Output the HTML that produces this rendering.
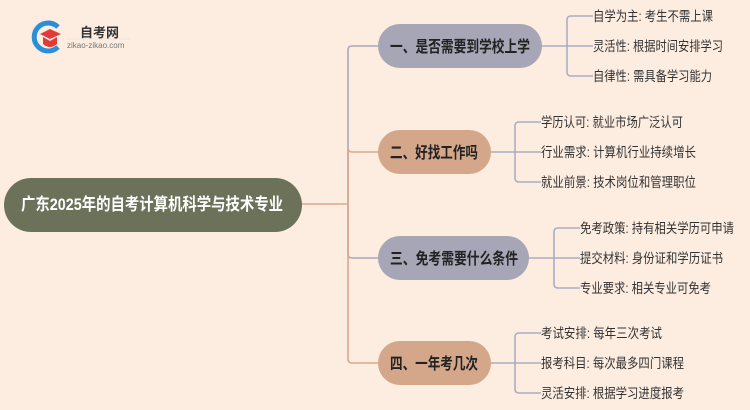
<!DOCTYPE html>
<html><head><meta charset="utf-8"><style>
body{margin:0;width:750px;height:410px;background:#fdede0;overflow:hidden;font-family:"Liberation Sans","Noto Sans CJK SC",sans-serif;}
svg{position:absolute;left:0;top:0}
.t{font-size:13.5px;fill:#333}
.n{font-size:16px;font-weight:bold;fill:#222}
</style></head><body>
<svg width="750" height="410" viewBox="0 0 750 410">
<!-- logo -->
<path d="M58 27 A14 14 0 1 0 58 47" fill="none" stroke="#2a8fd8" stroke-width="5"/>
<polygon points="40,34 50,29 61,34 50,39" fill="#e23a3a"/>
<path d="M43 37 L43 44 Q50 50 57 44 L57 37 L50 41 Z" fill="#e23a3a"/>
<text x="80" y="37" font-size="13" font-weight="bold" fill="#333">自考网</text>
<text x="67" y="48" font-size="8" fill="#777">zikao-zikao.com</text>
<line x1="66" y1="39" x2="130" y2="39" stroke="#ddd" stroke-width="0.5"/>
<g fill="none" stroke-width="1.6">
<path d="M302 204 H348" stroke="#d9a98c"/>
<path d="M348 204 V50 Q348 46 352 46 H378" stroke="#a9a9bb"/>
<path d="M348 204 V148 Q348 152 352 152 H378" stroke="#d9a98c"/>
<path d="M348 204 V254 Q348 258 352 258 H378" stroke="#a9a9bb"/>
<path d="M348 204 V359 Q348 363 352 363 H378" stroke="#d9a98c"/>
<g stroke="#a9adc6">
<path d="M542 46 H567 M593 16 H571 Q567 16 567 20 V72 Q567 76 571 76 H593 M567 46 H593"/>
<path d="M491 152 H515 M541 122 H519 Q515 122 515 126 V178 Q515 182 519 182 H541 M515 152 H541"/>
<path d="M529 258 H554 M580 228 H558 Q554 228 554 232 V284 Q554 288 558 288 H580 M554 258 H580"/>
<path d="M491 363 H515 M541 333 H519 Q515 333 515 337 V389 Q515 393 519 393 H541 M515 363 H541"/>
</g></g>
<rect x="4" y="178" width="298" height="54" rx="27" fill="#6b7259"/>
<text x="21" y="210" font-size="17" font-weight="bold" fill="#fff" textLength="262" lengthAdjust="spacingAndGlyphs">广东2025年的自考计算机科学与技术专业</text>
<rect x="378" y="24" width="164" height="44" rx="22" fill="#a6a6b6"/>
<text x="390" y="52" class="n" textLength="140" lengthAdjust="spacingAndGlyphs">一、是否需要到学校上学</text>
<rect x="378" y="130" width="113" height="44" rx="22" fill="#d4a68a"/>
<text x="390" y="158" class="n" textLength="88" lengthAdjust="spacingAndGlyphs">二、好找工作吗</text>
<rect x="378" y="236" width="151" height="44" rx="22" fill="#a6a6b6"/>
<text x="390" y="264" class="n" textLength="128" lengthAdjust="spacingAndGlyphs">三、免考需要什么条件</text>
<rect x="378" y="341" width="113" height="44" rx="22" fill="#d4a68a"/>
<text x="390" y="369" class="n" textLength="88" lengthAdjust="spacingAndGlyphs">四、一年考几次</text>
<text class="t" x="593" y="21" textLength="120" lengthAdjust="spacingAndGlyphs">自学为主: 考生不需上课</text>
<text class="t" x="593" y="51" textLength="130" lengthAdjust="spacingAndGlyphs">灵活性: 根据时间安排学习</text>
<text class="t" x="593" y="81" textLength="119" lengthAdjust="spacingAndGlyphs">自律性: 需具备学习能力</text>
<text class="t" x="541" y="127" textLength="142" lengthAdjust="spacingAndGlyphs">学历认可: 就业市场广泛认可</text>
<text class="t" x="541" y="157" textLength="155" lengthAdjust="spacingAndGlyphs">行业需求: 计算机行业持续增长</text>
<text class="t" x="541" y="187" textLength="155" lengthAdjust="spacingAndGlyphs">就业前景: 技术岗位和管理职位</text>
<text class="t" x="580" y="233" textLength="154" lengthAdjust="spacingAndGlyphs">免考政策: 持有相关学历可申请</text>
<text class="t" x="580" y="263" textLength="143" lengthAdjust="spacingAndGlyphs">提交材料: 身份证和学历证书</text>
<text class="t" x="580" y="293" textLength="131" lengthAdjust="spacingAndGlyphs">专业要求: 相关专业可免考</text>
<text class="t" x="541" y="338" textLength="121" lengthAdjust="spacingAndGlyphs">考试安排: 每年三次考试</text>
<text class="t" x="541" y="368" textLength="143" lengthAdjust="spacingAndGlyphs">报考科目: 每次最多四门课程</text>
<text class="t" x="541" y="398" textLength="143" lengthAdjust="spacingAndGlyphs">灵活安排: 根据学习进度报考</text>
</svg>
</body></html>
